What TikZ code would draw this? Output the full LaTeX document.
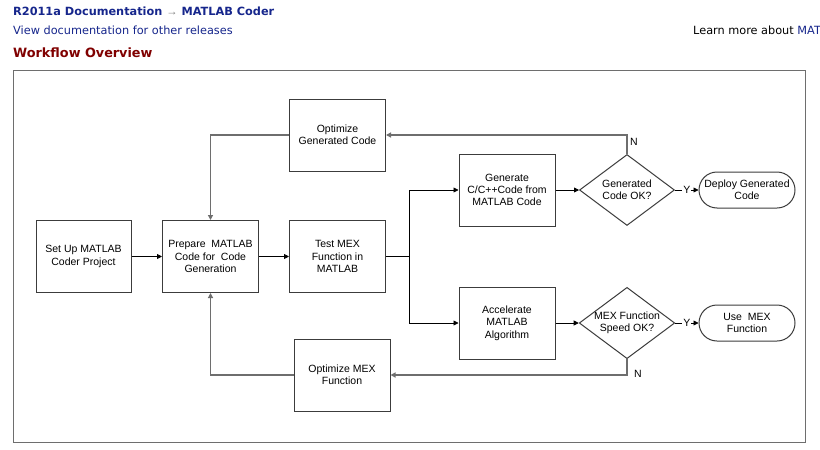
\documentclass[tikz,border=0pt]{standalone}
\usepackage{fontspec}
\setmainfont{Liberation Sans}
\newfontfamily\verd{DejaVu Sans}
\usetikzlibrary{shapes.geometric,arrows.meta}
\definecolor{navy}{RGB}{22,38,140}
\definecolor{dred}{RGB}{128,0,0}
\definecolor{boxline}{RGB}{60,60,60}
\definecolor{fbline}{RGB}{110,110,110}
\tikzset{
  procbox/.style={draw=boxline, line width=1pt, rectangle, minimum width=96pt, minimum height=72pt, inner sep=1pt, align=center, font=\fontsize{10.5}{12.3}\selectfont},
  decbox/.style={draw=boxline, line width=1pt, diamond, minimum width=95pt, minimum height=71pt, aspect=1.34, inner sep=0pt, align=center, font=\fontsize{10.5}{12.3}\selectfont},
  termbox/.style={draw=boxline, line width=1pt, rectangle, rounded corners=18pt, minimum width=96pt, minimum height=36pt, inner sep=0pt, align=center, font=\fontsize{10.5}{12.3}\selectfont},
  arr/.style={-{Triangle[length=5pt,width=5pt]}, line width=0.8pt, black},
  fb/.style={-{Triangle[length=5pt,width=5pt]}, line width=1.2pt, fbline},
  lbl/.style={font=\fontsize{10.5}{12}\selectfont, inner sep=1pt},
  hdr/.style={anchor=base west, inner sep=0pt, font=\verd\fontsize{11.3}{13}\selectfont}
}
\begin{document}
\begin{tikzpicture}[x=1pt,y=-1pt]
\useasboundingbox (0,0) rectangle (820,450);
\clip (0,0) rectangle (820,450);
\fill[white] (0,0) rectangle (820,450);
% header
\node[hdr, text=navy] (h1) at (13,15) {\bfseries R2011a Documentation \textcolor{gray}{\normalfont →} MATLAB Coder};
\node[hdr, text=navy] (h2) at (13,34) {View documentation for other releases};
\node[hdr, text=dred] (h3) at (13,57) {\bfseries\fontsize{12.8}{14}\selectfont Workflow Overview};
\node[hdr] (h4) at (693,34) {Learn more about \textcolor{navy}{MAT}};
% frame
\draw[fbline, line width=1pt] (13,70) rectangle (805,442);
% nodes
\node[procbox, minimum width=95pt] (setup) at (83.5,256.5) {Set Up MATLAB\\Coder Project};
\node[procbox] (prep) at (210.5,256.5) {Prepare\ \ MATLAB\\Code for\ \ Code\\Generation};
\node[procbox] (test) at (337.5,256.5) {Test MEX\\Function in\\MATLAB};
\node[procbox] (optgen) at (337.5,135) {Optimize\\Generated Code};
\node[procbox] (gen) at (507,190) {Generate\\C/C++Code from\\MATLAB Code};
\node[decbox] (dec1) at (627,190) {Generated\\Code OK?};
\node[termbox] (deploy) at (747,190) {Deploy Generated\\Code};
\node[procbox] (accel) at (507,323) {Accelerate\\MATLAB\\Algorithm};
\node[decbox] (dec2) at (627,323) {MEX Function\\Speed OK?};
\node[termbox] (usemex) at (747,323) {Use\ \ MEX\\Function};
\node[procbox] (optmex) at (342,375) {Optimize MEX\\Function};
\coordinate (split) at (409,256.5);
% connectors
\draw[arr] (setup) -- (prep);
\draw[arr] (prep) -- (test);
\draw[line width=0.8pt] (test.east) -- (split);
\draw[arr] (split) |- (gen.west);
\draw[arr] (split) |- (accel.west);
\draw[arr] (gen) -- (dec1);
\draw[arr] (accel) -- (dec2);
\draw[arr] (dec1.east) -- node[lbl, fill=white] (y1) {Y} (deploy.west);
\draw[arr] (dec2.east) -- node[lbl, fill=white] (y2) {Y} (usemex.west);
\draw[fb] (dec1.north) |- (optgen.east);
\draw[fb] (optgen.west) -| (prep.north);
\draw[fb] (dec2.south) |- (optmex.east);
\draw[fb] (optmex.west) -| (prep.south);
\node[lbl] (n1) at (634,142) {N};
\node[lbl] (n2) at (638,374) {N};
\end{tikzpicture}
\end{document}
